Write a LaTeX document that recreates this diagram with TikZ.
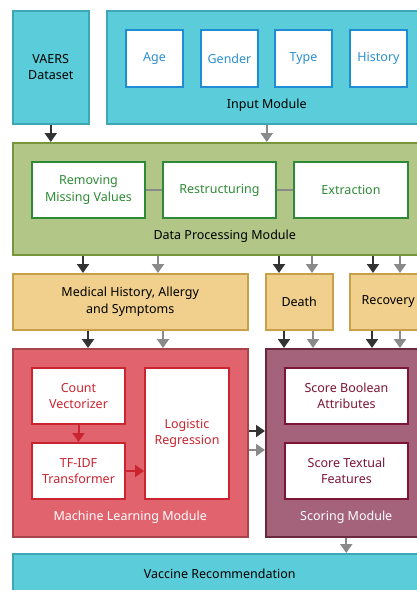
\documentclass[tikz,border=0pt]{standalone}
\usepackage{fontspec}
\setmainfont{Noto Sans}
\usetikzlibrary{calc,arrows.meta}

\definecolor{cyanfill}{HTML}{5BCCD9}
\definecolor{cyanline}{HTML}{3FA6B5}
\definecolor{blueline}{HTML}{1F8DD6}
\definecolor{bluetext}{HTML}{2B90D0}
\definecolor{greenfill}{HTML}{B2C688}
\definecolor{greenline}{HTML}{77953C}
\definecolor{greeninner}{HTML}{2E8A36}
\definecolor{yellowfill}{HTML}{F0D08C}
\definecolor{yellowline}{HTML}{C9A04A}
\definecolor{redfill}{HTML}{E0636E}
\definecolor{redline}{HTML}{A8444C}
\definecolor{redinner}{HTML}{C9242F}
\definecolor{maroonfill}{HTML}{A4637A}
\definecolor{maroonline}{HTML}{6A2A3E}
\definecolor{marooninner}{HTML}{7D1535}
\definecolor{arrowdark}{HTML}{333333}
\definecolor{arrowgray}{HTML}{8A8A8A}

\tikzset{
  every node/.style={font=\fontsize{12.5}{16.5}\selectfont, align=center, inner sep=0pt},
  sz/.style 2 args={anchor=north west, minimum width=#1pt, minimum height=#2pt},
  outerbox/.style={draw=#1line, fill=#1fill, line width=1.5pt},
  innerbox/.style={draw=#1, fill=white, text=#1, line width=2pt},
  darr/.style={-{Triangle[width=12pt,length=9pt]}, line width=2pt, arrowdark},
  garr/.style={-{Triangle[width=12pt,length=9pt]}, line width=2pt, arrowgray},
  rarr/.style={-{Triangle[width=12pt,length=9pt]}, line width=2pt, redinner},
}

\begin{document}
\begin{tikzpicture}[x=1pt, y=-1pt]
    \useasboundingbox (0,0) rectangle (417,590);
    \clip (0,0) rectangle (417,590);

    % Input row
    \node[outerbox=cyan, sz={76}{113}] (vaers) at (12,10) {VAERS\\Dataset};
    \node[outerbox=cyan, sz={320}{113}] (input) at (106,10) {};
    \node[innerbox=blueline, text=bluetext, sz={57}{57}] (age) at (125,29) {Age};
    \node[innerbox=blueline, text=bluetext, sz={57}{57}] (gender) at (200,29) {Gender};
    \node[innerbox=blueline, text=bluetext, sz={57}{57}] (vtype) at (274,29) {Type};
    \node[innerbox=blueline, text=bluetext, sz={57}{57}] (history) at (349,29) {History};
    \node (inputlbl) at ([yshift=19]input.south) {Input Module};

    % Data processing
    \node[outerbox=green, sz={414}{112}] (dpm) at (12,142) {};
    \node[innerbox=greeninner, sz={113}{56}] (rmv) at (31,161) {Removing\\Missing Values};
    \node[innerbox=greeninner, sz={113}{56}] (rst) at (162,161) {Restructuring};
    \node[innerbox=greeninner, sz={114}{56}] (ext) at (293,161) {Extraction};
    \node (dpmlbl) at ([xshift=5, yshift=19]dpm.south) {Data Processing Module};
    \draw[arrowgray, line width=1.5pt] (rmv) -- (rst);
    \draw[arrowgray, line width=1.5pt] (rst) -- (ext);

    % Extracted fields
    \node[outerbox=yellow, sz={235}{56}] (med) at (12,273) {Medical History, Allergy\\and Symptoms};
    \node[outerbox=yellow, sz={67}{56}] (death) at (265,273) {Death};
    \node[outerbox=yellow, sz={77}{56}] (recov) at (349,273) {Recovery};

    % Machine learning
    \node[outerbox=red, sz={235}{188}] (ml) at (12,348) {};
    \node[innerbox=redinner, sz={93}{56}] (cntvec) at (31,367) {Count\\Vectorizer};
    \node[innerbox=redinner, sz={93}{56}] (tfidf) at (31,442) {TF-IDF\\Transformer};
    \node[innerbox=redinner, sz={84}{131}] (logreg) at (144,367) {Logistic\\Regression};
    \node[white] (mllbl) at ([yshift=20]ml.south) {Machine Learning Module};
    \draw[rarr] (cntvec) -- (tfidf);
    \draw[rarr] (tfidf) -- (tfidf -| logreg.west);

    % Scoring
    \node[outerbox=maroon, sz={161}{188}] (score) at (265,348) {};
    \node[innerbox=marooninner, sz={123}{56}] (bool) at (284,367) {Score Boolean\\Attributes};
    \node[innerbox=marooninner, sz={123}{56}] (textual) at (284,442) {Score Textual\\Features};
    \node[white] (scorelbl) at ([yshift=20]score.south) {Scoring Module};

    % Output
    \node[outerbox=cyan, sz={414}{40}] (vacc) at (12,553) {Vaccine Recommendation};

    % Arrows between rows
    \draw[darr] (vaers) -- (vaers |- dpm.north);
    \draw[garr] (input) -- (input |- dpm.north);
    \foreach \n/\dx/\s [count=\i] in {med/71/darr, med/146/garr, death/14/darr, death/47/garr, recov/24/darr, recov/51/garr}{
        \coordinate (t\i) at ([xshift=\dx]\n.north west);
        \draw[\s] (t\i |- dpm.south) -- (t\i);
    }
    \foreach \n/\dx/\s/\m [count=\i] in {med/76/darr/ml, med/151/garr/ml, death/19/darr/score, death/48/garr/score, recov/23/darr/score, recov/51/garr/score}{
        \coordinate (b\i) at ([xshift=\dx]\n.south west);
        \draw[\s] (b\i) -- (b\i |- \m.north);
    }
    \coordinate (mla) at ([yshift=-83]ml.north east);
    \coordinate (mlb) at ([yshift=-102]ml.north east);
    \draw[darr] (mla) -- (mla -| score.west);
    \draw[garr] (mlb) -- (mlb -| score.west);
    \draw[garr] (score) -- (score |- vacc.north);
\end{tikzpicture}
\end{document}
